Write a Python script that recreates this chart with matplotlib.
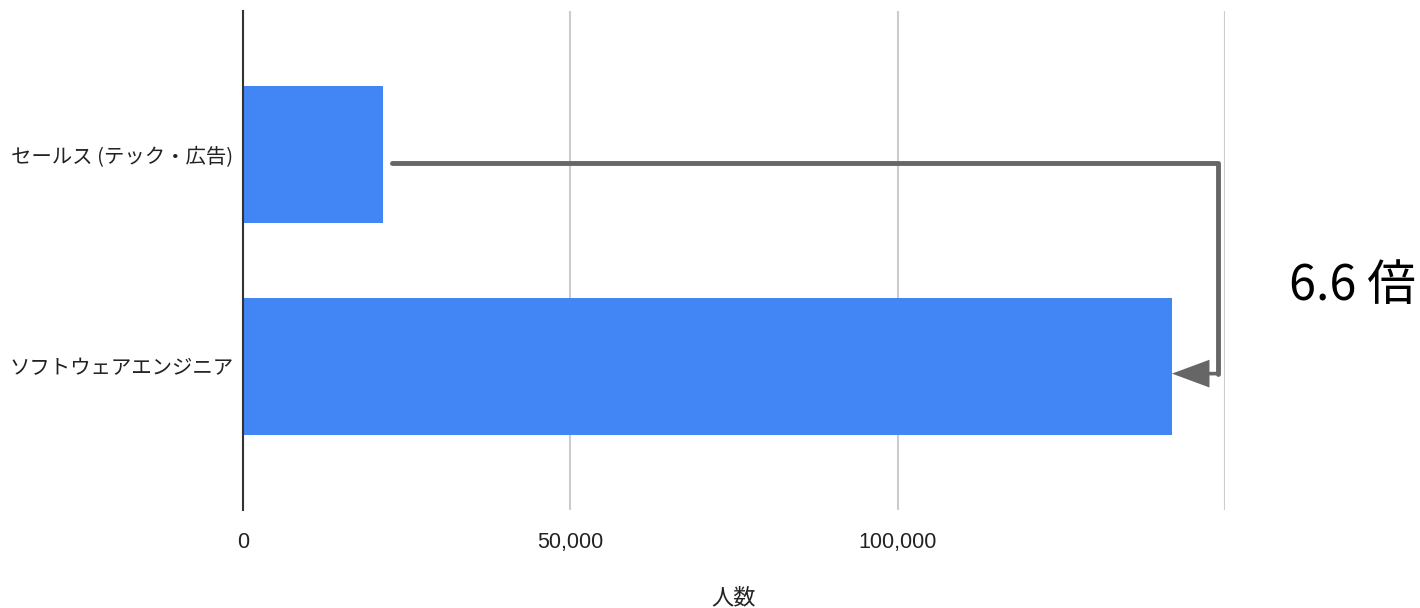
import matplotlib.pyplot as plt

plt.rcParams['font.family'] = ['Noto Sans CJK JP', 'DejaVu Sans']

# データ
categories = ['セールス (テック・広告)', 'ソフトウェアエンジニア']
values = [21400, 141900]
xticks = [0, 50000, 100000, 150000]
xticklabels = ['0', '50,000', '100,000', '']
ratio_label = '6.6 倍'

fig = plt.figure(figsize=(14.2, 6.08), dpi=100)
ax = fig.add_axes([243/1420, 98/608, 982/1420, 499/608])

pos = list(range(len(categories)))
ax.barh(pos, values, height=0.65, color='#4285F4', zorder=2)
ax.set_ylim(1.68, -0.68)
ax.set_xlim(0, 150000)
ax.set_yticks(pos)
ax.set_yticklabels(categories, fontsize=14.7, color='#222222')
ax.set_xticks(xticks)
ax.set_xticklabels(xticklabels, fontsize=15.5, color='#222222',
                   family=['Liberation Sans', 'DejaVu Sans'])
ax.tick_params(axis='y', length=0, pad=7)
ax.tick_params(axis='x', length=0, pad=16)
ax.grid(axis='x', color='#cccccc', linewidth=1.5, zorder=0)
for s in ['top', 'right', 'bottom']:
    ax.spines[s].set_visible(False)
ax.spines['left'].set_color('#333333')
ax.spines['left'].set_linewidth(1.5)
ax.spines['left'].set_zorder(3)
ax.set_xlabel('人数', fontsize=16, labelpad=24, color='#222222')

# 矢印
x_start = values[0] + 1400
x_turn = 148900
y_top = 0.04
y_bot = 1.035
ax.plot([x_start, x_turn, x_turn], [y_top, y_top, y_bot],
        color='#666666', linewidth=3.5, solid_joinstyle='round',
        solid_capstyle='round', zorder=4)
ax.annotate('', xy=(values[1], y_bot), xytext=(x_turn + 250, y_bot),
            arrowprops=dict(width=2.6, headwidth=20, headlength=27,
                            facecolor='#666666', edgecolor='none', linewidth=0,
                            shrink=0),
            zorder=4)

fig.text(1352/1420, 1 - 286/608, ratio_label, fontsize=35, ha='center', va='center',
         color='#000000')

fig.savefig('out.png', dpi=100)
